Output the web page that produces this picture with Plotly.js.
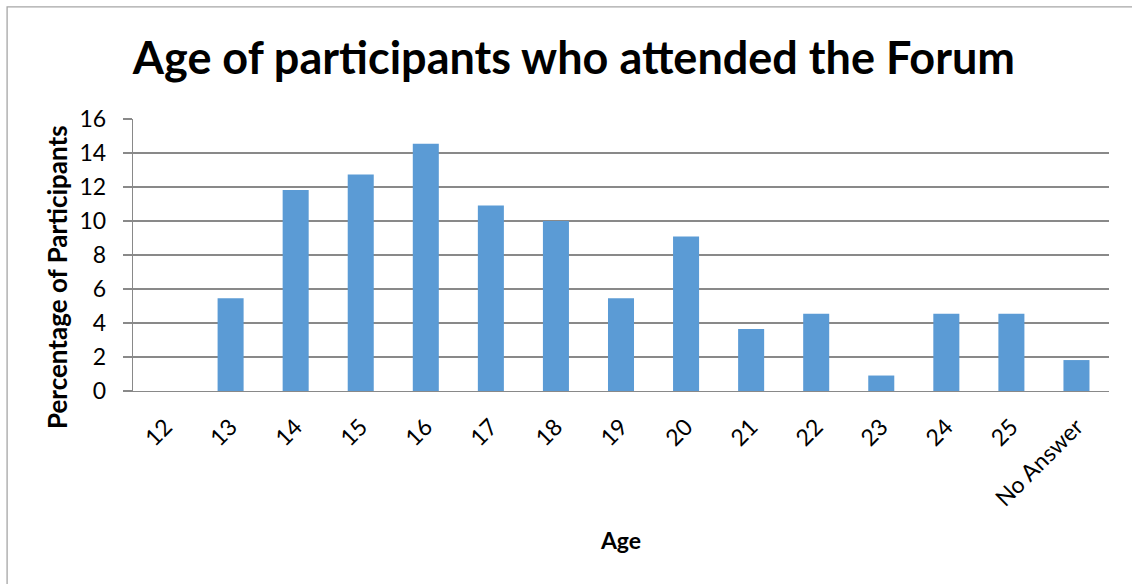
<!DOCTYPE html>
<html>
<head>
<meta charset="utf-8">
<script src="https://cdn.plot.ly/plotly-3.0.1.min.js"></script>
<style>html,body{margin:0;padding:0;background:#fff;}#chart{width:1132px;height:584px;}</style>
</head>
<body>
<div id="chart"></div>
<script>
const ages = ["12","13","14","15","16","17","18","19","20","21","22","23","24","25","No Answer"];
const percentages = [0, 5.45, 11.82, 12.73, 14.55, 10.91, 10.0, 5.45, 9.09, 3.64, 4.55, 0.91, 4.55, 4.55, 1.82];
const yTicks = [0, 2, 4, 6, 8, 10, 12, 14, 16];

const font = "Lato, 'Open Sans', 'Liberation Sans', sans-serif";

Plotly.newPlot('chart', [{
  type: 'bar',
  x: ages,
  y: percentages,
  marker: {color: '#5b9bd5', line: {width: 0}},
  hoverinfo: 'x+y'
}], {
  width: 1132, height: 584,
  paper_bgcolor: '#ffffff', plot_bgcolor: '#ffffff',
  margin: {l: 133, r: 23, t: 119, b: 193, pad: 0},
  bargap: 0.6,
  showlegend: false,
  title: {text: '<b>Age of participants who attended the Forum</b>', x: 0.507, xanchor: 'center', y: 0.9, yanchor: 'middle',
          font: {family: font, size: 45, color: '#000'}},
  xaxis: {
    type: 'category',
    tickangle: -45,
    tickfont: {family: font, size: 23, color: '#000'},
    ticklabelstandoff: 12,
    showline: true, linecolor: '#898989', linewidth: 1.3,
    ticks: '', showgrid: false, zeroline: false,
    title: {text: '<b>Age</b>', font: {family: font, size: 23, color: '#000'}, standoff: 22}
  },
  yaxis: {
    range: [0, 16],
    tickvals: yTicks,
    tickfont: {family: font, size: 23, color: '#000'},
    ticklabelstandoff: 12,
    showline: true, linecolor: '#898989', linewidth: 1.3,
    ticks: 'outside', ticklen: 9, tickcolor: '#898989', tickwidth: 1.3,
    showgrid: true, gridcolor: '#898989', gridwidth: 1.3,
    zeroline: false
  },
  annotations: [{
    text: '<b>Percentage of Participants</b>', textangle: -90,
    xref: 'paper', yref: 'paper', x: 0, y: 0.419, xshift: -76,
    xanchor: 'center', yanchor: 'middle', showarrow: false,
    font: {family: font, size: 26, color: '#000'}
  }],
  shapes: [{type: 'rect', xref: 'paper', yref: 'paper', x0: -0.129, x1: 1.5, y0: -1, y1: 1.412,
            line: {color: '#a6a6a6', width: 1.3}, fillcolor: 'rgba(0,0,0,0)', layer: 'below'}]
}, {displayModeBar: false, staticPlot: true});
</script>
</body>
</html>
